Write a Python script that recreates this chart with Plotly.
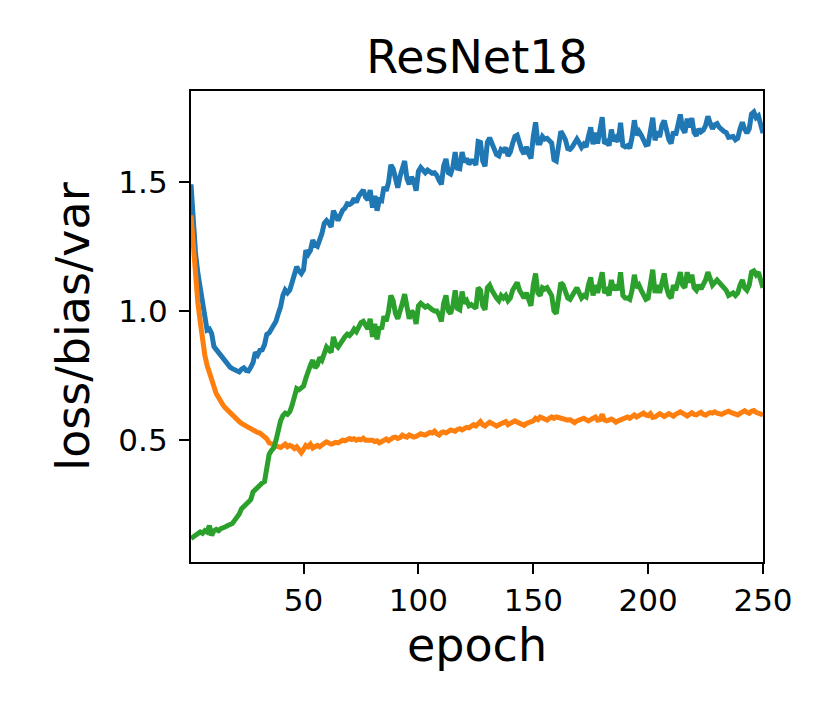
import plotly.graph_objects as go

# values, one per epoch (1..250)
epochs = list(range(1, 251))

bias = [
    1.37, 1.25, 1.13, 1.03, 0.96, 0.89, 0.83, 0.79, 0.76, 0.73,
    0.70, 0.68, 0.665, 0.648, 0.635, 0.625, 0.615, 0.607, 0.60, 0.59,
    0.58, 0.572, 0.565, 0.56, 0.555, 0.548, 0.54, 0.538, 0.535, 0.53,
    0.528, 0.52, 0.518, 0.505, 0.49, 0.485, 0.48, 0.478, 0.475, 0.472,
    0.478, 0.485, 0.475, 0.48, 0.476, 0.468, 0.475, 0.46, 0.452, 0.465,
    0.48, 0.475, 0.485, 0.47, 0.476, 0.48, 0.475, 0.485, 0.488, 0.494,
    0.49, 0.485, 0.488, 0.492, 0.49, 0.495, 0.5, 0.498, 0.505, 0.507,
    0.503, 0.506, 0.5, 0.504, 0.502, 0.508, 0.5, 0.5, 0.498, 0.5,
    0.495, 0.498, 0.49, 0.497, 0.5, 0.505, 0.498, 0.505, 0.51, 0.512,
    0.507, 0.51, 0.52, 0.515, 0.512, 0.52, 0.518, 0.512, 0.515, 0.52,
    0.525, 0.522, 0.52, 0.525, 0.53, 0.528, 0.535, 0.525, 0.52, 0.53,
    0.532, 0.528, 0.535, 0.54, 0.537, 0.535, 0.542, 0.545, 0.54, 0.545,
    0.55, 0.548, 0.555, 0.56, 0.555, 0.565, 0.572, 0.56, 0.555, 0.563,
    0.57, 0.565, 0.56, 0.555, 0.56, 0.565, 0.57, 0.572, 0.56, 0.565,
    0.568, 0.575, 0.57, 0.565, 0.562, 0.558, 0.565, 0.568, 0.57, 0.575,
    0.585, 0.58, 0.59, 0.585, 0.58, 0.578, 0.585, 0.59, 0.585, 0.59,
    0.588, 0.585, 0.58, 0.582, 0.578, 0.58, 0.575, 0.568, 0.575, 0.58,
    0.583, 0.585, 0.58, 0.575, 0.58, 0.585, 0.59, 0.578, 0.58, 0.6,
    0.578, 0.575, 0.58, 0.582, 0.577, 0.57, 0.575, 0.578, 0.58, 0.585,
    0.59, 0.585, 0.592, 0.598, 0.59, 0.595, 0.6, 0.605, 0.598, 0.595,
    0.603, 0.588, 0.59, 0.595, 0.603, 0.598, 0.592, 0.597, 0.603, 0.598,
    0.593, 0.6, 0.605, 0.61, 0.605, 0.6, 0.594, 0.6, 0.606, 0.6,
    0.598, 0.604, 0.608, 0.6, 0.597, 0.603, 0.607, 0.605, 0.61, 0.605,
    0.6, 0.6, 0.605, 0.61, 0.612, 0.608, 0.605, 0.602, 0.598, 0.604,
    0.61, 0.614, 0.608, 0.604, 0.612, 0.615, 0.608, 0.605, 0.6, 0.598,
]

var = [
    0.12, 0.125, 0.13, 0.135, 0.145, 0.14, 0.15, 0.145, 0.17, 0.132,
    0.15, 0.155, 0.15, 0.158, 0.16, 0.165, 0.17, 0.175, 0.178, 0.19,
    0.2, 0.215, 0.235, 0.245, 0.25, 0.265, 0.27, 0.3, 0.31, 0.315,
    0.325, 0.335, 0.34, 0.39, 0.445, 0.46, 0.47, 0.5, 0.545, 0.575,
    0.595, 0.605, 0.6, 0.61, 0.635, 0.675, 0.7, 0.695, 0.705, 0.71,
    0.74, 0.77, 0.79, 0.81, 0.78, 0.79, 0.82, 0.81, 0.83, 0.86,
    0.85, 0.84, 0.9, 0.87, 0.86, 0.875, 0.89, 0.9, 0.91, 0.905,
    0.915, 0.93, 0.92, 0.94, 0.955, 0.96, 0.94, 0.93, 0.97, 0.9,
    0.95, 0.89, 0.94, 0.93, 0.98, 0.96, 1.0, 1.06, 1.04, 0.99,
    0.97, 1.01, 1.03, 1.065, 1.0, 0.97, 1.0, 0.99, 0.95, 1.02,
    1.03, 1.025, 1.015, 1.02, 1.01, 1.005, 1.0, 1.0, 0.985, 0.96,
    1.03, 1.06, 1.0, 0.99, 1.02, 1.08, 1.01, 1.005, 1.075, 1.03,
    1.04, 1.02, 1.025, 1.02, 1.01, 1.09, 1.08, 1.02, 1.005, 1.09,
    1.1, 1.08, 1.06, 1.05, 1.04, 1.06, 1.05, 1.06, 1.04, 1.05,
    1.08, 1.1, 1.11, 1.08, 1.06, 1.05, 1.07, 1.04, 1.02, 1.1,
    1.145, 1.07, 1.06, 1.09, 1.085, 1.09, 1.07, 1.06, 1.0, 0.99,
    1.05, 1.11, 1.1, 1.08, 1.05, 1.045, 1.06, 1.08, 1.09, 1.07,
    1.05, 1.06, 1.055, 1.1, 1.13, 1.06, 1.1, 1.07, 1.12, 1.15,
    1.07, 1.08, 1.06, 1.12, 1.08, 1.1, 1.08, 1.15, 1.06, 1.05,
    1.05, 1.045, 1.08, 1.14, 1.09, 1.1, 1.08, 1.06, 1.045, 1.05,
    1.1, 1.16, 1.07, 1.1, 1.07, 1.12, 1.145, 1.09, 1.06, 1.05,
    1.1, 1.08, 1.12, 1.15, 1.1, 1.09, 1.15, 1.11, 1.14, 1.09,
    1.08, 1.1, 1.085, 1.1, 1.12, 1.15, 1.12, 1.1, 1.11, 1.12,
    1.11, 1.1, 1.09, 1.08, 1.06, 1.065, 1.07, 1.06, 1.07, 1.1,
    1.12, 1.09, 1.08, 1.1, 1.15, 1.155, 1.14, 1.15, 1.12, 1.09,
]

loss = [
    1.49, 1.34, 1.22, 1.145, 1.09, 1.042, 0.98, 0.926, 0.93, 0.913,
    0.862, 0.85, 0.838, 0.83, 0.815, 0.805, 0.79, 0.783, 0.777, 0.772,
    0.768, 0.764, 0.775, 0.78, 0.77, 0.768, 0.782, 0.8, 0.84, 0.83,
    0.848, 0.85, 0.87, 0.91, 0.915, 0.93, 0.952, 0.96, 0.99, 1.016,
    1.06, 1.081, 1.07, 1.081, 1.11, 1.15, 1.171, 1.155, 1.145, 1.16,
    1.235, 1.22, 1.235, 1.274, 1.255, 1.25, 1.27, 1.3, 1.339, 1.35,
    1.34, 1.325, 1.388, 1.362, 1.35, 1.37, 1.39, 1.398, 1.415, 1.412,
    1.418, 1.436, 1.42, 1.444, 1.457, 1.468, 1.44, 1.43, 1.468, 1.4,
    1.445, 1.388, 1.43, 1.427, 1.48, 1.465, 1.498, 1.565, 1.55, 1.502,
    1.477, 1.52, 1.55, 1.58, 1.512, 1.49, 1.518, 1.502, 1.465, 1.54,
    1.555, 1.547, 1.535, 1.545, 1.54, 1.533, 1.535, 1.525, 1.505, 1.49,
    1.562, 1.588, 1.535, 1.53, 1.557, 1.615, 1.552, 1.55, 1.615, 1.575,
    1.59, 1.568, 1.58, 1.58, 1.565, 1.655, 1.652, 1.58, 1.56, 1.653,
    1.67, 1.645, 1.62, 1.605, 1.6, 1.625, 1.62, 1.632, 1.6, 1.615,
    1.648, 1.675, 1.68, 1.645, 1.622, 1.608, 1.635, 1.608, 1.59, 1.675,
    1.73, 1.65, 1.65, 1.675, 1.665, 1.668, 1.655, 1.65, 1.585, 1.58,
    1.638, 1.695, 1.68, 1.662, 1.628, 1.625, 1.635, 1.648, 1.665, 1.65,
    1.633, 1.645, 1.635, 1.675, 1.71, 1.645, 1.69, 1.648, 1.7, 1.75,
    1.648, 1.655, 1.64, 1.702, 1.657, 1.67, 1.655, 1.728, 1.64, 1.635,
    1.64, 1.63, 1.672, 1.738, 1.68, 1.695, 1.68, 1.665, 1.643, 1.645,
    1.703, 1.748, 1.66, 1.695, 1.673, 1.718, 1.737, 1.687, 1.663, 1.648,
    1.693, 1.68, 1.725, 1.76, 1.705, 1.69, 1.744, 1.71, 1.746, 1.69,
    1.678, 1.704, 1.693, 1.7, 1.717, 1.753, 1.727, 1.705, 1.72, 1.725,
    1.71, 1.7, 1.695, 1.69, 1.672, 1.673, 1.675, 1.662, 1.668, 1.704,
    1.73, 1.704, 1.688, 1.704, 1.762, 1.77, 1.748, 1.755, 1.72, 1.688,
]

x_ticks = [50, 100, 150, 200, 250]
y_ticks = [0.5, 1.0, 1.5]
y_tick_text = ["0.5", "1.0", "1.5"]

font = "DejaVu Sans"

fig = go.Figure()
fig.add_trace(go.Scatter(x=epochs, y=loss, mode="lines", name="loss",
                         line=dict(color="#1f77b4", width=5)))
fig.add_trace(go.Scatter(x=epochs, y=bias, mode="lines", name="bias",
                         line=dict(color="#ff7f0e", width=5)))
fig.add_trace(go.Scatter(x=epochs, y=var, mode="lines", name="var",
                         line=dict(color="#2ca02c", width=5)))

fig.update_layout(
    width=830, height=712,
    margin=dict(l=183, r=75, t=83, b=158, autoexpand=False),
    paper_bgcolor="white", plot_bgcolor="white",
    showlegend=False,
    font=dict(family=font, color="black"),
    title=dict(text="ResNet18", x=0.5, xref="paper", xanchor="center",
               y=1, yref="paper", yanchor="bottom", pad=dict(b=18),
               font=dict(size=46, family=font, color="black")),
)

fig.update_xaxes(
    range=[1, 250], tickvals=x_ticks, ticks="outside", ticklen=10, tickwidth=2.3,
    tickcolor="black", tickfont=dict(size=31, family=font),
    showline=True, linecolor="black", linewidth=2.3, mirror=True,
    showgrid=False, zeroline=False,
    title=dict(text="epoch", font=dict(size=46, family=font), standoff=10),
)
fig.update_yaxes(
    range=[0.029, 1.851], tickvals=y_ticks, ticktext=y_tick_text,
    ticks="outside", ticklen=10, tickwidth=2.3, tickcolor="black",
    tickfont=dict(size=31, family=font), ticklabelstandoff=5,
    showline=True, linecolor="black", linewidth=2.3, mirror=True,
    showgrid=False, zeroline=False,
    title=dict(text="loss/bias/var", font=dict(size=46, family=font), standoff=14),
)

fig.write_html("out.html")
